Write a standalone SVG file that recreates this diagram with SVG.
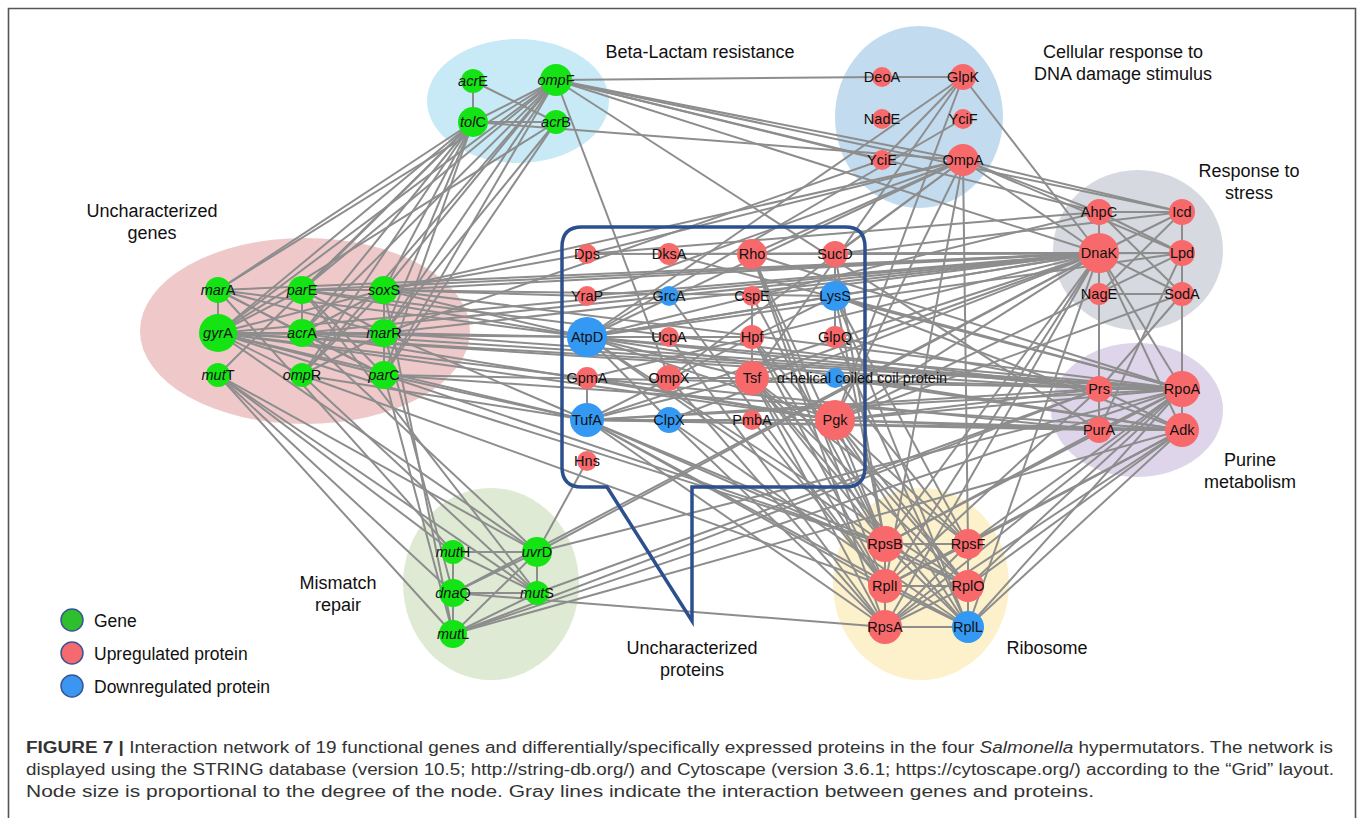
<svg xmlns="http://www.w3.org/2000/svg" width="1358" height="818" viewBox="0 0 1358 818">
<style>
.e line{stroke:#8d8d8d;stroke-width:2}
.g{fill:#14e414}
.u{fill:#f8696b}
.d{fill:#3399f3}
.nl{font-family:"Liberation Sans",Arial,sans-serif;font-size:14.5px;fill:#111;text-anchor:middle}
.cl{font-family:"Liberation Sans",Arial,sans-serif;font-size:18px;fill:#111;text-anchor:middle}
.lg{font-family:"Liberation Sans",Arial,sans-serif;font-size:17.5px;fill:#111}
.cap{font-family:"Liberation Sans",Arial,sans-serif;font-size:16px;fill:#333}
.it{font-style:italic}
</style>
<rect width="1358" height="818" fill="#fff"/>
<path d="M8.5 818 V8.5 H1355.5 V818" fill="none" stroke="#555" stroke-width="1.6"/>
<g id="clusters">
<ellipse cx="518" cy="101" rx="91" ry="62" fill="#c8eaf7"/>
<ellipse cx="919" cy="117" rx="84" ry="91" fill="#c3dbee"/>
<ellipse cx="1138" cy="250" rx="85" ry="80" fill="#d6d9df"/>
<ellipse cx="1137" cy="410" rx="86" ry="67" fill="#ded5eb"/>
<ellipse cx="305" cy="331" rx="165" ry="93" fill="#efc9ca"/>
<ellipse cx="491" cy="584" rx="88" ry="96" fill="#dfead5"/>
<ellipse cx="921" cy="584" rx="88" ry="96" fill="#fdf1cc"/>
</g>
<g id="connectors" class="e">
<line x1="473" y1="81" x2="473" y2="122"/><line x1="473" y1="81" x2="556" y2="122"/><line x1="473" y1="122" x2="556" y2="122"/><line x1="473" y1="122" x2="556" y2="80"/>
<line x1="556" y1="80" x2="882" y2="77"/><line x1="882" y1="77" x2="963" y2="77"/><line x1="556" y1="80" x2="963" y2="160"/><line x1="556" y1="80" x2="882" y2="160"/>
<line x1="556" y1="80" x2="1099" y2="212"/><line x1="556" y1="80" x2="1099" y2="253"/><line x1="556" y1="80" x2="1182" y2="212"/><line x1="556" y1="80" x2="669" y2="378"/>
<line x1="556" y1="80" x2="1099" y2="430"/><line x1="473" y1="122" x2="963" y2="160"/>
<line x1="556" y1="122" x2="218" y2="333"/><line x1="556" y1="122" x2="384" y2="333"/><line x1="556" y1="122" x2="384" y2="375"/>
<line x1="473" y1="122" x2="218" y2="290"/><line x1="473" y1="122" x2="218" y2="333"/><line x1="473" y1="122" x2="302" y2="290"/><line x1="473" y1="122" x2="302" y2="333"/>
<line x1="473" y1="122" x2="384" y2="290"/><line x1="473" y1="122" x2="384" y2="333"/><line x1="473" y1="122" x2="384" y2="375"/><line x1="473" y1="122" x2="302" y2="375"/><line x1="473" y1="122" x2="218" y2="375"/>
<line x1="556" y1="80" x2="218" y2="290"/><line x1="556" y1="80" x2="218" y2="333"/><line x1="556" y1="80" x2="302" y2="333"/><line x1="556" y1="80" x2="384" y2="290"/>
<line x1="556" y1="80" x2="384" y2="333"/><line x1="556" y1="80" x2="384" y2="375"/><line x1="556" y1="80" x2="302" y2="290"/><line x1="556" y1="80" x2="302" y2="375"/>
<line x1="218" y1="290" x2="218" y2="333"/><line x1="302" y1="290" x2="302" y2="333"/><line x1="384" y1="290" x2="384" y2="333"/><line x1="384" y1="333" x2="384" y2="375"/>
<line x1="218" y1="333" x2="302" y2="333"/><line x1="218" y1="333" x2="384" y2="333"/><line x1="218" y1="333" x2="302" y2="290"/><line x1="218" y1="333" x2="384" y2="290"/>
<line x1="218" y1="333" x2="302" y2="375"/><line x1="218" y1="333" x2="384" y2="375"/><line x1="218" y1="290" x2="302" y2="333"/><line x1="218" y1="290" x2="384" y2="333"/>
<line x1="302" y1="290" x2="384" y2="333"/><line x1="302" y1="290" x2="384" y2="375"/><line x1="302" y1="333" x2="384" y2="290"/><line x1="302" y1="333" x2="384" y2="375"/>
<line x1="302" y1="375" x2="384" y2="290"/><line x1="302" y1="375" x2="384" y2="333"/><line x1="302" y1="290" x2="384" y2="290"/><line x1="218" y1="290" x2="384" y2="375"/>
<line x1="218" y1="333" x2="587" y2="337"/><line x1="218" y1="333" x2="587" y2="420"/><line x1="218" y1="333" x2="1099" y2="253"/><line x1="218" y1="333" x2="1182" y2="389"/>
<line x1="218" y1="333" x2="835" y2="420"/><line x1="218" y1="333" x2="587" y2="378"/><line x1="218" y1="333" x2="1099" y2="389"/>
<line x1="384" y1="290" x2="1099" y2="253"/><line x1="384" y1="290" x2="835" y2="296"/><line x1="384" y1="290" x2="587" y2="254"/><line x1="384" y1="290" x2="587" y2="337"/><line x1="384" y1="290" x2="1182" y2="389"/>
<line x1="302" y1="290" x2="587" y2="337"/><line x1="302" y1="290" x2="1099" y2="389"/><line x1="302" y1="290" x2="1099" y2="253"/>
<line x1="384" y1="333" x2="587" y2="337"/><line x1="384" y1="333" x2="1182" y2="389"/><line x1="384" y1="333" x2="587" y2="420"/><line x1="384" y1="333" x2="1099" y2="253"/>
<line x1="384" y1="375" x2="587" y2="420"/><line x1="384" y1="375" x2="1182" y2="430"/><line x1="384" y1="375" x2="1182" y2="389"/><line x1="384" y1="375" x2="885" y2="544"/>
<line x1="302" y1="333" x2="835" y2="420"/><line x1="302" y1="333" x2="1099" y2="253"/><line x1="302" y1="333" x2="1182" y2="389"/>
<line x1="218" y1="290" x2="587" y2="337"/><line x1="218" y1="290" x2="1099" y2="253"/><line x1="302" y1="375" x2="885" y2="586"/><line x1="302" y1="375" x2="587" y2="420"/>
<line x1="384" y1="290" x2="587" y2="296"/><line x1="218" y1="333" x2="885" y2="544"/><line x1="384" y1="290" x2="963" y2="160"/><line x1="384" y1="333" x2="882" y2="160"/>
<line x1="218" y1="375" x2="453" y2="552"/><line x1="218" y1="375" x2="453" y2="593"/><line x1="218" y1="375" x2="453" y2="634"/><line x1="218" y1="375" x2="537" y2="552"/><line x1="218" y1="375" x2="537" y2="593"/>
<line x1="218" y1="333" x2="537" y2="552"/><line x1="302" y1="290" x2="537" y2="593"/><line x1="302" y1="333" x2="537" y2="552"/><line x1="384" y1="375" x2="453" y2="634"/>
<line x1="384" y1="333" x2="453" y2="593"/><line x1="384" y1="290" x2="453" y2="634"/><line x1="218" y1="290" x2="453" y2="552"/><line x1="302" y1="375" x2="537" y2="593"/>
<line x1="453" y1="552" x2="537" y2="552"/><line x1="453" y1="552" x2="453" y2="593"/><line x1="453" y1="593" x2="453" y2="634"/><line x1="537" y1="552" x2="537" y2="593"/>
<line x1="453" y1="552" x2="537" y2="593"/><line x1="537" y1="552" x2="453" y2="593"/><line x1="537" y1="552" x2="453" y2="634"/><line x1="537" y1="593" x2="453" y2="634"/><line x1="453" y1="593" x2="537" y2="593"/>
<line x1="537" y1="552" x2="587" y2="461"/><line x1="453" y1="593" x2="885" y2="627"/><line x1="537" y1="552" x2="1099" y2="253"/><line x1="537" y1="552" x2="1182" y2="389"/>
<line x1="453" y1="593" x2="1099" y2="253"/><line x1="453" y1="634" x2="1182" y2="389"/><line x1="453" y1="634" x2="1182" y2="430"/><line x1="537" y1="593" x2="1099" y2="389"/><line x1="453" y1="634" x2="1099" y2="389"/>
<line x1="587" y1="378" x2="587" y2="420"/><line x1="587" y1="420" x2="669" y2="420"/><line x1="669" y1="420" x2="752" y2="420"/><line x1="752" y1="420" x2="835" y2="420"/>
<line x1="835" y1="254" x2="835" y2="296"/><line x1="835" y1="296" x2="835" y2="337"/><line x1="752" y1="296" x2="752" y2="337"/><line x1="752" y1="337" x2="752" y2="378"/>
<line x1="587" y1="337" x2="835" y2="296"/><line x1="587" y1="337" x2="752" y2="378"/><line x1="587" y1="337" x2="835" y2="420"/><line x1="587" y1="420" x2="752" y2="378"/>
<line x1="587" y1="420" x2="835" y2="296"/><line x1="587" y1="337" x2="752" y2="337"/><line x1="669" y1="378" x2="752" y2="378"/><line x1="587" y1="337" x2="669" y2="420"/>
<line x1="587" y1="254" x2="1099" y2="253"/><line x1="587" y1="254" x2="1099" y2="212"/><line x1="669" y1="254" x2="1099" y2="253"/><line x1="669" y1="254" x2="1182" y2="389"/>
<line x1="752" y1="254" x2="1099" y2="253"/><line x1="752" y1="254" x2="885" y2="544"/><line x1="752" y1="254" x2="885" y2="627"/><line x1="752" y1="254" x2="885" y2="586"/>
<line x1="752" y1="254" x2="963" y2="160"/><line x1="752" y1="254" x2="1182" y2="389"/>
<line x1="835" y1="254" x2="1182" y2="253"/><line x1="835" y1="254" x2="1182" y2="212"/><line x1="835" y1="254" x2="963" y2="160"/><line x1="835" y1="254" x2="1099" y2="253"/><line x1="835" y1="254" x2="885" y2="544"/>
<line x1="587" y1="296" x2="963" y2="160"/><line x1="587" y1="296" x2="1099" y2="253"/><line x1="669" y1="296" x2="885" y2="586"/><line x1="752" y1="296" x2="885" y2="544"/><line x1="752" y1="296" x2="1099" y2="253"/>
<line x1="835" y1="296" x2="1099" y2="253"/><line x1="835" y1="296" x2="1182" y2="389"/><line x1="835" y1="296" x2="968" y2="544"/><line x1="835" y1="296" x2="968" y2="627"/>
<line x1="835" y1="296" x2="885" y2="544"/><line x1="835" y1="296" x2="1182" y2="430"/>
<line x1="587" y1="337" x2="1099" y2="253"/><line x1="587" y1="337" x2="1099" y2="212"/><line x1="587" y1="337" x2="1182" y2="389"/><line x1="587" y1="337" x2="1182" y2="430"/>
<line x1="587" y1="337" x2="1099" y2="389"/><line x1="587" y1="337" x2="885" y2="544"/><line x1="587" y1="337" x2="968" y2="586"/><line x1="587" y1="337" x2="963" y2="160"/>
<line x1="587" y1="337" x2="963" y2="77"/><line x1="587" y1="337" x2="1182" y2="253"/>
<line x1="669" y1="337" x2="885" y2="627"/><line x1="752" y1="337" x2="885" y2="544"/><line x1="752" y1="337" x2="885" y2="586"/><line x1="752" y1="337" x2="968" y2="586"/>
<line x1="835" y1="337" x2="1099" y2="389"/><line x1="835" y1="337" x2="968" y2="627"/>
<line x1="587" y1="378" x2="1099" y2="430"/><line x1="587" y1="378" x2="1099" y2="253"/><line x1="587" y1="378" x2="835" y2="420"/>
<line x1="669" y1="378" x2="963" y2="160"/><line x1="669" y1="378" x2="885" y2="627"/>
<line x1="752" y1="378" x2="885" y2="544"/><line x1="752" y1="378" x2="968" y2="544"/><line x1="752" y1="378" x2="885" y2="586"/><line x1="752" y1="378" x2="968" y2="586"/>
<line x1="752" y1="378" x2="885" y2="627"/><line x1="752" y1="378" x2="968" y2="627"/><line x1="752" y1="378" x2="1099" y2="253"/><line x1="752" y1="378" x2="1182" y2="389"/>
<line x1="835" y1="378" x2="1182" y2="430"/><line x1="835" y1="378" x2="968" y2="544"/>
<line x1="587" y1="420" x2="1182" y2="389"/><line x1="587" y1="420" x2="1182" y2="430"/><line x1="587" y1="420" x2="1099" y2="430"/><line x1="587" y1="420" x2="1099" y2="253"/>
<line x1="587" y1="420" x2="885" y2="544"/><line x1="587" y1="420" x2="885" y2="586"/><line x1="587" y1="420" x2="885" y2="627"/><line x1="587" y1="420" x2="968" y2="627"/>
<line x1="587" y1="420" x2="968" y2="586"/><line x1="587" y1="420" x2="1099" y2="389"/>
<line x1="669" y1="420" x2="1099" y2="253"/><line x1="669" y1="420" x2="885" y2="627"/><line x1="669" y1="420" x2="968" y2="627"/><line x1="752" y1="420" x2="885" y2="586"/>
<line x1="835" y1="420" x2="1182" y2="389"/><line x1="835" y1="420" x2="1182" y2="430"/><line x1="835" y1="420" x2="1099" y2="389"/><line x1="835" y1="420" x2="1099" y2="430"/>
<line x1="835" y1="420" x2="1099" y2="253"/><line x1="835" y1="420" x2="885" y2="544"/><line x1="835" y1="420" x2="968" y2="544"/><line x1="835" y1="420" x2="968" y2="627"/>
<line x1="835" y1="420" x2="963" y2="77"/><line x1="835" y1="420" x2="963" y2="160"/><line x1="835" y1="420" x2="968" y2="586"/><line x1="835" y1="420" x2="1182" y2="253"/><line x1="835" y1="420" x2="1182" y2="294"/>
<line x1="963" y1="77" x2="1099" y2="253"/><line x1="963" y1="77" x2="882" y2="160"/><line x1="963" y1="77" x2="752" y2="378"/><line x1="963" y1="119" x2="587" y2="337"/>
<line x1="963" y1="160" x2="1099" y2="253"/><line x1="963" y1="160" x2="1182" y2="212"/><line x1="963" y1="160" x2="1099" y2="212"/><line x1="963" y1="160" x2="968" y2="544"/>
<line x1="963" y1="160" x2="1182" y2="253"/><line x1="963" y1="160" x2="885" y2="586"/><line x1="963" y1="160" x2="587" y2="254"/>
<line x1="1099" y1="212" x2="1182" y2="212"/><line x1="1099" y1="212" x2="1099" y2="253"/><line x1="1099" y1="253" x2="1182" y2="253"/><line x1="1182" y1="212" x2="1182" y2="253"/>
<line x1="1182" y1="253" x2="1182" y2="294"/><line x1="1099" y1="294" x2="1182" y2="294"/><line x1="1099" y1="253" x2="1099" y2="294"/><line x1="1099" y1="253" x2="1182" y2="294"/>
<line x1="1099" y1="212" x2="1182" y2="253"/><line x1="1099" y1="253" x2="1182" y2="212"/><line x1="1099" y1="212" x2="1182" y2="294"/><line x1="1182" y1="212" x2="1099" y2="294"/>
<line x1="1099" y1="294" x2="1099" y2="389"/><line x1="1182" y1="294" x2="1182" y2="389"/><line x1="1099" y1="253" x2="1182" y2="389"/><line x1="1099" y1="253" x2="1182" y2="430"/>
<line x1="1182" y1="253" x2="1099" y2="430"/><line x1="1099" y1="253" x2="1099" y2="389"/><line x1="1182" y1="294" x2="1099" y2="389"/>
<line x1="1099" y1="253" x2="885" y2="544"/><line x1="1099" y1="253" x2="885" y2="627"/><line x1="1099" y1="253" x2="968" y2="627"/><line x1="1099" y1="253" x2="885" y2="586"/>
<line x1="1099" y1="389" x2="1182" y2="389"/><line x1="1099" y1="389" x2="1099" y2="430"/><line x1="1182" y1="389" x2="1182" y2="430"/><line x1="1099" y1="430" x2="1182" y2="430"/>
<line x1="1099" y1="389" x2="1182" y2="430"/><line x1="1099" y1="430" x2="1182" y2="389"/>
<line x1="1182" y1="389" x2="968" y2="627"/><line x1="1182" y1="389" x2="968" y2="544"/><line x1="1182" y1="389" x2="968" y2="586"/><line x1="1182" y1="430" x2="968" y2="627"/>
<line x1="1182" y1="430" x2="885" y2="627"/><line x1="1182" y1="430" x2="968" y2="586"/><line x1="1182" y1="430" x2="968" y2="544"/><line x1="1099" y1="430" x2="885" y2="544"/>
<line x1="1099" y1="389" x2="885" y2="586"/><line x1="1182" y1="389" x2="885" y2="627"/><line x1="1182" y1="430" x2="885" y2="586"/><line x1="1182" y1="389" x2="885" y2="544"/>
<line x1="885" y1="544" x2="968" y2="544"/><line x1="885" y1="544" x2="885" y2="586"/><line x1="885" y1="544" x2="968" y2="586"/><line x1="885" y1="544" x2="885" y2="627"/><line x1="885" y1="544" x2="968" y2="627"/>
<line x1="968" y1="544" x2="885" y2="586"/><line x1="968" y1="544" x2="968" y2="586"/><line x1="968" y1="544" x2="885" y2="627"/><line x1="968" y1="544" x2="968" y2="627"/>
<line x1="885" y1="586" x2="968" y2="586"/><line x1="885" y1="586" x2="885" y2="627"/><line x1="885" y1="586" x2="968" y2="627"/><line x1="968" y1="586" x2="885" y2="627"/><line x1="968" y1="586" x2="968" y2="627"/><line x1="885" y1="627" x2="968" y2="627"/>
</g>
<g id="box-uncharacterized-proteins">
<path d="M582 227 H845 Q865 227 865 247 V467 Q865 487 845 487 H692 V621 L607 487 H582 Q562 487 562 467 V247 Q562 227 582 227 Z" fill="none" stroke="#2c4f8e" stroke-width="3.5" stroke-linejoin="miter"/>
</g>
<g id="nodes">
<g id="n-acrE"><circle class="g" cx="473" cy="81" r="12"/><text class="nl" x="473" y="86"><tspan class="it">acr</tspan>E</text></g>
<g id="n-ompF"><circle class="g" cx="556" cy="80" r="16"/><text class="nl" x="556" y="85"><tspan class="it">omp</tspan>F</text></g>
<g id="n-tolC"><circle class="g" cx="473" cy="122" r="15"/><text class="nl" x="473" y="127"><tspan class="it">tol</tspan>C</text></g>
<g id="n-acrB"><circle class="g" cx="556" cy="122" r="12"/><text class="nl" x="556" y="127"><tspan class="it">acr</tspan>B</text></g>
<g id="n-marA"><circle class="g" cx="218" cy="290" r="13"/><text class="nl" x="218" y="295"><tspan class="it">mar</tspan>A</text></g>
<g id="n-gyrA"><circle class="g" cx="218" cy="333" r="19"/><text class="nl" x="218" y="338"><tspan class="it">gyr</tspan>A</text></g>
<g id="n-mutT"><circle class="g" cx="218" cy="375" r="12"/><text class="nl" x="218" y="380"><tspan class="it">mut</tspan>T</text></g>
<g id="n-parE"><circle class="g" cx="302" cy="290" r="14"/><text class="nl" x="302" y="295"><tspan class="it">par</tspan>E</text></g>
<g id="n-acrA"><circle class="g" cx="302" cy="333" r="14"/><text class="nl" x="302" y="338"><tspan class="it">acr</tspan>A</text></g>
<g id="n-ompR"><circle class="g" cx="302" cy="375" r="12"/><text class="nl" x="302" y="380"><tspan class="it">omp</tspan>R</text></g>
<g id="n-soxS"><circle class="g" cx="384" cy="290" r="14"/><text class="nl" x="384" y="295"><tspan class="it">sox</tspan>S</text></g>
<g id="n-marR"><circle class="g" cx="384" cy="333" r="14"/><text class="nl" x="384" y="338"><tspan class="it">mar</tspan>R</text></g>
<g id="n-parC"><circle class="g" cx="384" cy="375" r="14"/><text class="nl" x="384" y="380"><tspan class="it">par</tspan>C</text></g>
<g id="n-mutH"><circle class="g" cx="453" cy="552" r="12"/><text class="nl" x="453" y="557"><tspan class="it">mut</tspan>H</text></g>
<g id="n-uvrD"><circle class="g" cx="537" cy="552" r="15"/><text class="nl" x="537" y="557"><tspan class="it">uvr</tspan>D</text></g>
<g id="n-dnaQ"><circle class="g" cx="453" cy="593" r="14"/><text class="nl" x="453" y="598"><tspan class="it">dna</tspan>Q</text></g>
<g id="n-mutS"><circle class="g" cx="537" cy="593" r="12"/><text class="nl" x="537" y="598"><tspan class="it">mut</tspan>S</text></g>
<g id="n-mutL"><circle class="g" cx="453" cy="634" r="14"/><text class="nl" x="453" y="639"><tspan class="it">mut</tspan>L</text></g>
<g id="n-DeoA"><circle class="u" cx="882" cy="77" r="10"/><text class="nl" x="882" y="82">DeoA</text></g>
<g id="n-GlpK"><circle class="u" cx="963" cy="77" r="13"/><text class="nl" x="963" y="82">GlpK</text></g>
<g id="n-NadE"><circle class="u" cx="882" cy="119" r="10"/><text class="nl" x="882" y="124">NadE</text></g>
<g id="n-YciF"><circle class="u" cx="963" cy="119" r="10"/><text class="nl" x="963" y="124">YciF</text></g>
<g id="n-YciE"><circle class="u" cx="882" cy="160" r="10"/><text class="nl" x="882" y="165">YciE</text></g>
<g id="n-OmpA"><circle class="u" cx="963" cy="160" r="16"/><text class="nl" x="963" y="165">OmpA</text></g>
<g id="n-AhpC"><circle class="u" cx="1099" cy="212" r="13"/><text class="nl" x="1099" y="217">AhpC</text></g>
<g id="n-Icd"><circle class="u" cx="1182" cy="212" r="13"/><text class="nl" x="1182" y="217">Icd</text></g>
<g id="n-DnaK"><circle class="u" cx="1099" cy="253" r="20"/><text class="nl" x="1099" y="258">DnaK</text></g>
<g id="n-Lpd"><circle class="u" cx="1182" cy="253" r="13"/><text class="nl" x="1182" y="258">Lpd</text></g>
<g id="n-NagE"><circle class="u" cx="1099" cy="294" r="11"/><text class="nl" x="1099" y="299">NagE</text></g>
<g id="n-SodA"><circle class="u" cx="1182" cy="294" r="12"/><text class="nl" x="1182" y="299">SodA</text></g>
<g id="n-Prs"><circle class="u" cx="1099" cy="389" r="13"/><text class="nl" x="1099" y="394">Prs</text></g>
<g id="n-RpoA"><circle class="u" cx="1182" cy="389" r="18"/><text class="nl" x="1182" y="394">RpoA</text></g>
<g id="n-PurA"><circle class="u" cx="1099" cy="430" r="13"/><text class="nl" x="1099" y="435">PurA</text></g>
<g id="n-Adk"><circle class="u" cx="1182" cy="430" r="17"/><text class="nl" x="1182" y="435">Adk</text></g>
<g id="n-Dps"><circle class="u" cx="587" cy="254" r="10"/><text class="nl" x="587" y="259">Dps</text></g>
<g id="n-DksA"><circle class="u" cx="669" cy="254" r="11"/><text class="nl" x="669" y="259">DksA</text></g>
<g id="n-Rho"><circle class="u" cx="752" cy="254" r="15"/><text class="nl" x="752" y="259">Rho</text></g>
<g id="n-SucD"><circle class="u" cx="835" cy="254" r="13"/><text class="nl" x="835" y="259">SucD</text></g>
<g id="n-YraP"><circle class="u" cx="587" cy="296" r="10"/><text class="nl" x="587" y="301">YraP</text></g>
<g id="n-GrcA"><circle class="d" cx="669" cy="296" r="10"/><text class="nl" x="669" y="301">GrcA</text></g>
<g id="n-CspE"><circle class="u" cx="752" cy="296" r="10"/><text class="nl" x="752" y="301">CspE</text></g>
<g id="n-LysS"><circle class="d" cx="835" cy="296" r="15"/><text class="nl" x="835" y="301">LysS</text></g>
<g id="n-AtpD"><circle class="d" cx="587" cy="337" r="20"/><text class="nl" x="587" y="342">AtpD</text></g>
<g id="n-UcpA"><circle class="u" cx="669" cy="337" r="10"/><text class="nl" x="669" y="342">UcpA</text></g>
<g id="n-Hpf"><circle class="u" cx="752" cy="337" r="12"/><text class="nl" x="752" y="342">Hpf</text></g>
<g id="n-GlpQ"><circle class="u" cx="835" cy="337" r="11"/><text class="nl" x="835" y="342">GlpQ</text></g>
<g id="n-GpmA"><circle class="u" cx="587" cy="378" r="11"/><text class="nl" x="587" y="383">GpmA</text></g>
<g id="n-OmpX"><circle class="u" cx="669" cy="378" r="13"/><text class="nl" x="669" y="383">OmpX</text></g>
<g id="n-Tsf"><circle class="u" cx="752" cy="378" r="17"/><text class="nl" x="752" y="383">Tsf</text></g>
<g id="n-alpha"><circle class="d" cx="835" cy="378" r="10"/><text class="nl" x="862" y="383">α-helical coiled coil protein</text></g>
<g id="n-TufA"><circle class="d" cx="587" cy="420" r="17"/><text class="nl" x="587" y="425">TufA</text></g>
<g id="n-ClpX"><circle class="d" cx="669" cy="420" r="13"/><text class="nl" x="669" y="425">ClpX</text></g>
<g id="n-PmbA"><circle class="u" cx="752" cy="420" r="10"/><text class="nl" x="752" y="425">PmbA</text></g>
<g id="n-Pgk"><circle class="u" cx="835" cy="420" r="20"/><text class="nl" x="835" y="425">Pgk</text></g>
<g id="n-Hns"><circle class="u" cx="587" cy="461" r="10"/><text class="nl" x="587" y="466">Hns</text></g>
<g id="n-RpsB"><circle class="u" cx="885" cy="544" r="18"/><text class="nl" x="885" y="549">RpsB</text></g>
<g id="n-RpsF"><circle class="u" cx="968" cy="544" r="15"/><text class="nl" x="968" y="549">RpsF</text></g>
<g id="n-RplI"><circle class="u" cx="885" cy="586" r="17"/><text class="nl" x="885" y="591">RplI</text></g>
<g id="n-RplO"><circle class="u" cx="968" cy="586" r="16"/><text class="nl" x="968" y="591">RplO</text></g>
<g id="n-RpsA"><circle class="u" cx="885" cy="627" r="17"/><text class="nl" x="885" y="632">RpsA</text></g>
<g id="n-RplL"><circle class="d" cx="968" cy="627" r="16"/><text class="nl" x="968" y="632">RplL</text></g>
</g>
<g id="cluster-labels">
<text class="cl" x="700" y="58">Beta-Lactam resistance</text>
<text class="cl" x="1123" y="58">Cellular response to</text>
<text class="cl" x="1123" y="80">DNA damage stimulus</text>
<text class="cl" x="1249" y="177">Response to</text>
<text class="cl" x="1249" y="199">stress</text>
<text class="cl" x="1250" y="466">Purine</text>
<text class="cl" x="1250" y="488">metabolism</text>
<text class="cl" x="152" y="217">Uncharacterized</text>
<text class="cl" x="152" y="239">genes</text>
<text class="cl" x="338" y="589">Mismatch</text>
<text class="cl" x="338" y="611">repair</text>
<text class="cl" x="692" y="654">Uncharacterized</text>
<text class="cl" x="692" y="676">proteins</text>
<text class="cl" x="1047" y="654">Ribosome</text>
</g>
<g id="legend">
<circle cx="72" cy="620" r="11" fill="#2dbf2d" stroke="#3b5694" stroke-width="1.5"/>
<circle cx="72" cy="653" r="11" fill="#f46a6e" stroke="#3b5694" stroke-width="1.5"/>
<circle cx="72" cy="686" r="11" fill="#3a96f0" stroke="#3b5694" stroke-width="1.5"/>
<text class="lg" x="94" y="627">Gene</text>
<text class="lg" x="94" y="660">Upregulated protein</text>
<text class="lg" x="94" y="693">Downregulated protein</text>
</g>
<g id="caption">
<text class="cap" x="26" y="753" textLength="1307" lengthAdjust="spacingAndGlyphs"><tspan font-weight="bold">FIGURE 7 |</tspan> Interaction network of 19 functional genes and differentially/specifically expressed proteins in the four <tspan class="it">Salmonella</tspan> hypermutators. The network is</text>
<text class="cap" x="26" y="775" textLength="1308" lengthAdjust="spacingAndGlyphs">displayed using the STRING database (version 10.5; http://string-db.org/) and Cytoscape (version 3.6.1; https://cytoscape.org/) according to the “Grid” layout.</text>
<text class="cap" x="26" y="797" textLength="1068" lengthAdjust="spacingAndGlyphs">Node size is proportional to the degree of the node. Gray lines indicate the interaction between genes and proteins.</text>
</g>
</svg>
